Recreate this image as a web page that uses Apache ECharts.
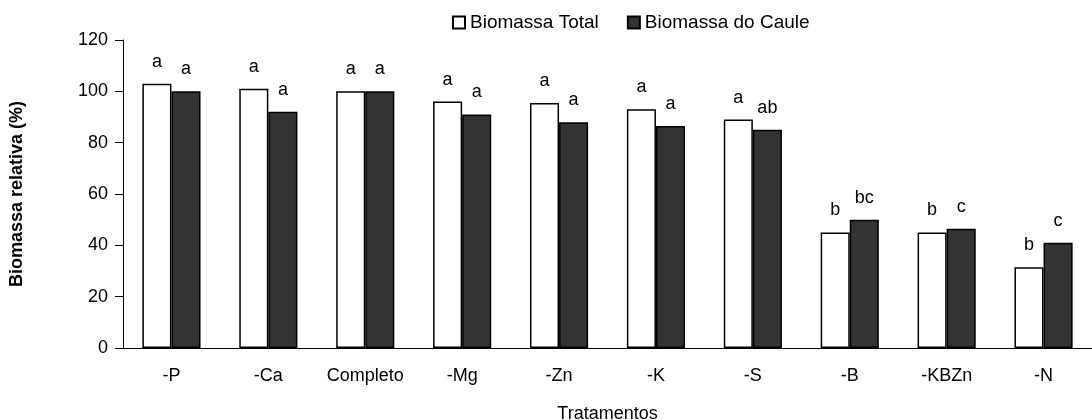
<!DOCTYPE html>
<html><head><meta charset="utf-8">
<script src="https://cdn.jsdelivr.net/npm/echarts@6/dist/echarts.min.js"></script>
<style>html,body{margin:0;padding:0;background:#fff}#c{width:1092px;height:420px}</style>
</head><body><div id="c"></div>
<script>
const categories = ['-P','-Ca','Completo','-Mg','-Zn','-K','-S','-B','-KBZn','-N'];
const totalValues = [103, 101, 100, 96, 95.5, 93, 89, 45, 45, 31.5];
const stemValues = [100, 92, 100, 91, 88, 86.5, 85, 50, 46.5, 41];
const totalLetters = ['a','a','a','a','a','a','a','b','b','b'];
const stemLetters = ['a','a','a','a','a','a','ab','bc','c','c'];
const yTicks = [0, 20, 40, 60, 80, 100, 120];

const font = 'Liberation Sans, Arial, sans-serif';
const chart = echarts.init(document.getElementById('c'));
function mk(vals, letters){
  return vals.map((v,i)=>({value:v, label:{formatter:letters[i]}}));
}
chart.setOption({
  animation:false,
  textStyle:{fontFamily:font},
  legend:{
    top:8, left:447, itemGap:28, itemWidth:12, itemHeight:12,
    icon:'rect',
    textStyle:{fontFamily:font, fontSize:19, color:'#000'},
    data:['Biomassa Total','Biomassa do Caule']
  },
  grid:{left:123, right:0, top:40, bottom:72, outerBoundsMode:'none', containLabel:false},
  xAxis:{
    type:'category', data:categories,
    name:'Tratamentos', nameLocation:'middle', nameGap:57,
    nameTextStyle:{fontFamily:font, fontSize:18, color:'#000'},
    axisLine:{lineStyle:{color:'#000', width:1}},
    axisTick:{show:false},
    axisLabel:{color:'#000', fontSize:18, fontFamily:font, margin:19, interval:0},
  },
  yAxis:{
    type:'value', min:0, max:120, interval:20,
    name:'Biomassa relativa (%)', nameLocation:'middle', nameGap:97,
    nameTextStyle:{fontFamily:font, fontSize:18, fontWeight:'bold', color:'#000'},
    axisLine:{show:true, lineStyle:{color:'#000', width:1}},
    axisTick:{show:true, length:8, lineStyle:{color:'#000'}},
    axisLabel:{color:'#000', fontSize:18, fontFamily:font, margin:15,
      formatter:v=> yTicks.includes(v) ? String(v) : ''},
    splitLine:{show:false}
  },
  series:[
    {name:'Biomassa Total', type:'bar', barWidth:'30%', barGap:'0%',
     itemStyle:{color:'#fff', borderColor:'#000', borderWidth:1.5},
     label:{show:true, position:'top', distance:13, color:'#000', fontSize:18, fontFamily:font},
     data:mk(totalValues,totalLetters)},
    {name:'Biomassa do Caule', type:'bar', barWidth:'30%', barGap:'0%',
     itemStyle:{color:'#333', borderColor:'#000', borderWidth:1.5},
     label:{show:true, position:'top', distance:13, color:'#000', fontSize:18, fontFamily:font},
     data:mk(stemValues,stemLetters)}
  ]
});
</script></body></html>
